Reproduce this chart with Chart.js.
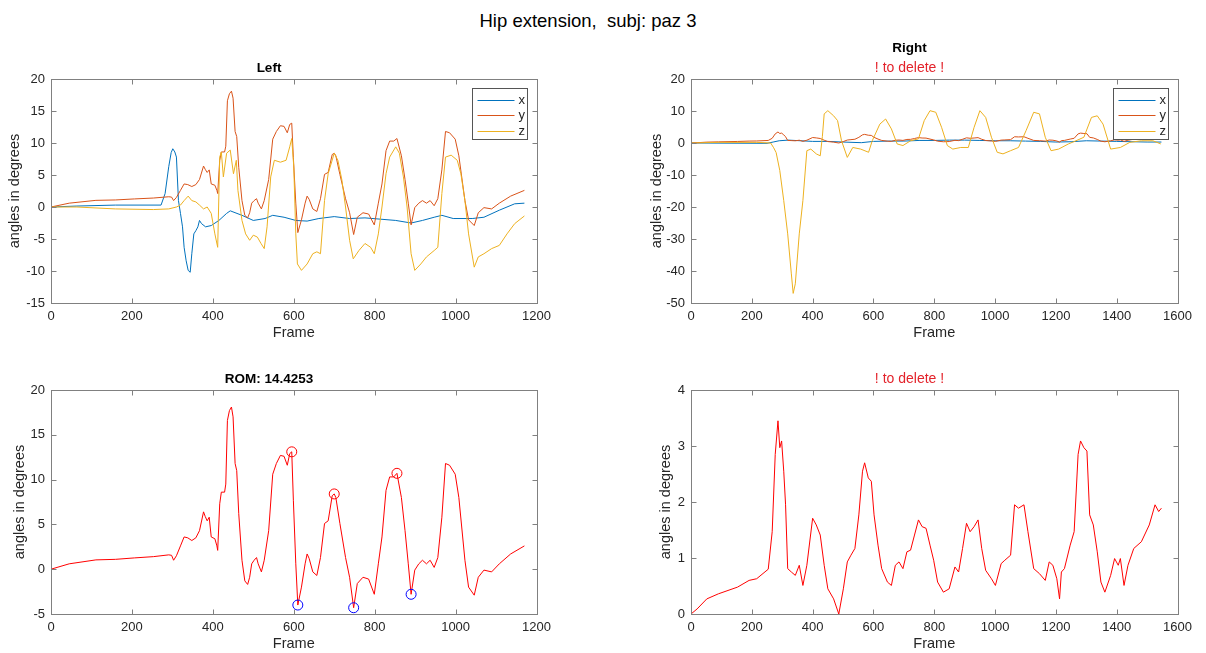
<!DOCTYPE html>
<html><head><meta charset="utf-8">
<script src="https://cdn.jsdelivr.net/npm/chart.js@4/dist/chart.umd.min.js"></script>
<style>
body{margin:0;background:#fff;width:1206px;height:653px;overflow:hidden;position:relative;font-family:"Liberation Sans",Arial,sans-serif;}
.box{position:absolute;}
#main{position:absolute;left:0;width:1176px;top:10px;line-height:22px;text-align:center;font-size:18.5px;color:#000;white-space:pre;}
</style></head><body>
<div id="main">Hip extension,  subj: paz 3</div>
<div class="box" id="b1"></div>
<div class="box" id="b2"></div>
<div class="box" id="b3"></div>
<div class="box" id="b4"></div>
<script>
// ---------------- DATA ----------------
const mainTitle = "Hip extension,  subj: paz 3";
const seriesLabels = ["x", "y", "z"];

// Left side
const leftXFrames = [0,64,159,272,282,291,297,301,306,310,315,320,325,329,334,339,344,348,353,358,363,367,372,382,396,415,434,443,472,500,529,548,576,605,633,662,700,738,776,814,852,890,918,947,966,994,1041,1070,1108,1146,1170];
const leftXValues = [0,0.15,0.3,0.3,2.1,6.3,8.5,9.1,8.6,7.8,1.0,-1.0,-3.1,-6.3,-8.4,-9.9,-10.2,-7.3,-4.2,-3.7,-3.1,-2.1,-2.6,-3.1,-2.9,-2.1,-1.0,-0.6,-1.3,-2.1,-1.8,-1.3,-1.6,-2.1,-2.2,-1.8,-1.5,-1.8,-1.7,-1.9,-2.1,-2.5,-2.1,-1.6,-1.3,-1.8,-1.8,-1.6,-0.5,0.5,0.6];

const leftYFrames = [0,45,111,159,206,253,291,298,303,310,320,329,338,348,358,367,377,381,386,391,396,405,410,412,417,421,429,432,436,441,446,450,455,459,464,472,479,486,491,496,502,508,512,520,527,538,548,557,567,576,584,590,595,599,605,610,619,628,633,638,647,657,666,676,685,695,700,704,714,728,738,748,757,771,785,799,809,818,828,837,847,855,866,875,883,890,899,909,918,928,937,947,956,966,975,985,999,1008,1023,1032,1046,1056,1070,1089,1108,1136,1170];
const leftYValues = [0,0.6,1.04,1.1,1.26,1.4,1.6,1.55,1.0,1.5,2.6,3.6,3.5,3.2,3.5,4.3,6.4,5.9,5.4,5.8,3.6,3.4,2.6,2.1,7.3,8.6,8.6,9.5,16.6,17.7,18.1,17,11.8,11,6.2,1,-1.3,-1.7,-0.9,0.6,1.0,1.3,0.6,-0.3,1.0,4.3,10.6,11.8,12.7,12.6,11.6,12.9,13.1,7.7,0.6,-4.0,-2.0,0.6,1.7,1.2,-0.3,-0.7,1.3,5.1,5.4,8.2,8.4,8.0,5.1,1.3,-0.9,-4.3,-1.6,-0.9,-1.1,-2.8,0.6,3.6,8.8,10.3,10.3,10.7,8.0,4.3,0.6,-2.8,-0.1,0.6,1.0,0.6,1.0,0.2,1.3,5.8,11.8,11.6,10.6,8.0,1.0,-2.0,-2.9,-0.9,-0.1,-0.3,0.6,1.7,2.6];

const leftZFrames = [0,64,159,253,291,310,320,329,339,348,358,367,377,386,396,405,412,417,421,426,434,443,451,458,462,472,481,491,500,510,519,527,534,543,552,567,581,590,595,600,605,609,619,633,647,657,666,676,685,700,709,719,728,738,747,761,776,790,799,809,818,828,837,852,861,871,880,890,899,914,928,947,956,966,975,989,1004,1013,1023,1032,1046,1056,1070,1089,1108,1127,1146,1170];
const leftZValues = [0,0,-0.3,-0.4,-0.3,0,0.3,1.0,1.7,1.0,0.8,0.3,-0.3,0,-1.0,-4.2,-6.3,7.8,8.6,4.7,8.4,8.9,5.2,7.3,2.6,-2.1,-4.2,-5.2,-4.4,-4.7,-5.7,-6.5,-3.1,4.7,7.3,7.0,7.3,9.4,10.7,6.3,-4.2,-8.9,-9.9,-8.9,-7.3,-7.0,-7.3,1.0,5.2,8.4,7.3,4.2,0,-5.2,-8.1,-6.8,-5.7,-6.3,-7.3,-4.2,0,5.2,7.8,9.4,8.4,4.7,0,-7.3,-9.9,-8.9,-7.8,-6.8,-6.3,2.1,7.8,8.1,7.3,5.2,1.0,-4.2,-9.4,-7.8,-7.3,-6.5,-6.0,-4.2,-2.6,-1.4];

// ROM markers (left)
const romPeakFrames = [595, 700, 855];
const romPeakValues = [13.1, 8.4, 10.7];
const romMinFrames = [610, 748, 890];
const romMinValues = [-4.0, -4.3, -2.8];

// Right side
const rightXFrames = [0,250,270,290,320,360,400,450,500,560,600,650,700,750,800,850,900,950,1000,1050,1100,1150,1200,1250,1300,1350,1400,1450,1500,1547];
const rightXValues = [0,-0.1,0.3,0.7,0.9,0.7,0.5,0.5,0.3,0.1,0.5,0.6,0.6,0.8,0.8,0.9,0.9,0.8,0.7,0.7,0.6,0.5,0.3,0.4,0.7,0.6,0.5,0.4,0.3,0.3];

const rightYFrames = [0,20,52,90,153,191,216,254,267,277,286,292,298,305,311,318,330,343,356,368,381,400,412,425,438,450,469,486,501,514,526,539,552,564,571,583,593,602,615,627,646,659,672,684,697,710,722,735,748,760,773,786,798,811,830,849,868,880,893,906,918,931,944,956,969,988,1001,1020,1032,1051,1064,1077,1095,1108,1127,1146,1165,1178,1190,1203,1212,1218,1228,1247,1260,1273,1281,1292,1302,1311,1323,1336,1348,1361,1380,1393,1405,1412,1424,1437,1456,1481,1507,1526,1538,1547];
const rightYValues = [0,0.09,0.27,0.36,0.48,0.6,0.63,0.8,1.47,2.85,3.45,2.97,3.09,2.55,1.95,0.81,0.75,0.69,0.87,0.51,0.87,1.71,1.59,1.41,0.87,0.45,0.27,0.0,0.45,0.93,1.05,1.17,1.77,2.55,2.7,2.43,2.37,1.77,1.23,0.81,0.57,0.51,0.87,0.93,0.81,1.11,1.14,1.41,1.68,1.56,1.53,1.23,0.96,0.57,0.39,0.45,0.84,0.75,1.17,1.62,1.47,1.56,1.68,1.17,0.78,0.63,0.51,0.9,0.96,1.05,1.95,1.89,1.95,1.47,0.81,0.72,0.6,0.93,0.87,0.63,0.27,0.75,0.81,1.23,1.47,2.85,3.09,2.97,2.91,1.77,1.59,1.11,0.57,0.39,0.69,0.99,0.87,0.99,0.51,0.87,1.17,1.29,1.59,1.95,1.83,1.89];

const rightZFrames = [0,90,216,262,272,280,292,305,318,330,336,343,356,368,381,394,412,425,432,438,450,469,482,495,514,532,558,584,596,621,640,659,678,697,722,748,767,786,805,824,843,861,887,912,931,950,969,988,1007,1026,1051,1077,1102,1127,1146,1165,1184,1209,1241,1266,1292,1317,1336,1355,1380,1412,1443,1481,1519,1545];
const rightZValues = [0,0.2,0.2,0,-1.5,-3,-8.6,-18,-28.4,-40.9,-47,-44,-28.4,-18,-2.4,-1.9,-3.4,-4.0,2,9.1,10.1,8.5,7.0,0.7,-4.5,-1.4,-1.9,-2.9,0.7,5.9,7.5,4.4,-0.3,-0.8,0.7,1.3,7.0,10.1,9.6,4.9,-0.8,-1.9,-1.4,-1.4,4.9,10.1,8.0,1.8,-2.9,-3.4,-2.4,-1.4,3.9,9.6,9.1,1.8,-2.4,-1.9,-0.3,0.7,1.8,8.0,8.5,5.9,-1.9,-1.4,0.2,0.7,0.7,-0.3];

// Axis tick settings
const leftXTicks = {min: 0, max: 1200, step: 200};
const rightXTicks = {min: 0, max: 1600, step: 200};
const topLeftYTicks = {min: -15, max: 20, step: 5};
const topRightYTicks = {min: -50, max: 20, step: 10};
const botLeftYTicks = {min: -5, max: 20, step: 5};
const botRightYTicks = {min: 0, max: 4, step: 1};

// ---------------- STYLE / HELPERS ----------------
const FONT = '"Liberation Sans", Arial, Helvetica, sans-serif';
const C_X = '#0072BD', C_Y = '#D95319', C_Z = '#EDB120', C_RED = '#ff0000', C_BLUE = '#0000ff';
const TXT = '#262626';
const RED_T = '#e3232b';

function pts(f, v) { return f.map((x, i) => ({x: x, y: v[i]})); }

const boxPlugin = {
  id: 'mbox',
  afterDraw(chart) {
    const {ctx, chartArea: a, scales} = chart;
    ctx.save();
    ctx.strokeStyle = '#808080'; ctx.lineWidth = 1;
    const L = Math.round(a.left) + 0.5, T = Math.round(a.top) + 0.5, R = Math.round(a.right) + 0.5, B = Math.round(a.bottom) + 0.5;
    ctx.strokeRect(L, T, R - L, B - T);
    const tl = 5;
    ctx.beginPath();
    scales.x.ticks.forEach(t => {
      const p = Math.round(scales.x.getPixelForValue(t.value)) + 0.5;
      ctx.moveTo(p, B); ctx.lineTo(p, B - tl);
      ctx.moveTo(p, T); ctx.lineTo(p, T + tl);
    });
    scales.y.ticks.forEach(t => {
      const p = Math.round(scales.y.getPixelForValue(t.value)) + 0.5;
      ctx.moveTo(L, p); ctx.lineTo(L + tl, p);
      ctx.moveTo(R, p); ctx.lineTo(R - tl, p);
    });
    ctx.stroke();
    ctx.restore();
  }
};

const legendPlugin = {
  id: 'mlegend',
  afterDraw(chart, args, opts) {
    if (!opts || !opts.show) return;
    const {ctx, chartArea: a} = chart;
    const w = 55, h = 51;
    const x0 = Math.round(a.right - 10 - w) + 0.5, y0 = Math.round(a.top + 9) + 0.5;
    ctx.save();
    ctx.fillStyle = '#fff'; ctx.fillRect(x0, y0, w, h);
    ctx.strokeStyle = '#555'; ctx.lineWidth = 1; ctx.strokeRect(x0, y0, w, h);
    ctx.font = '13px ' + FONT; ctx.textBaseline = 'middle'; ctx.textAlign = 'left';
    chart.data.datasets.forEach((ds, i) => {
      const y = Math.round(y0 + 11 + i * 15.5) + 0.5;
      ctx.strokeStyle = ds.borderColor; ctx.beginPath(); ctx.moveTo(x0 + 5, y); ctx.lineTo(x0 + 42, y); ctx.stroke();
      ctx.fillStyle = TXT; ctx.fillText(ds.label, x0 + 46, y);
    });
    ctx.restore();
  }
};
Chart.register(boxPlugin, legendPlugin);

function lineDs(label, f, v, color, order) {
  return {label: label, data: pts(f, v), borderColor: color, backgroundColor: color, borderWidth: 1, pointRadius: 0, tension: 0, order: order, fill: false};
}

function titleOpts(text, center, size, bold, color, blockStart, blockEnd) {
  const lh = 1.2 * size;
  const p1 = center - blockStart - lh / 2;
  const p2 = blockEnd - blockStart - p1 - lh;
  return {display: true, text: text, color: color, font: {family: FONT, size: size, weight: bold ? 'bold' : 'normal', lineHeight: 1.2}, padding: {top: p1, bottom: p2}};
}

function makeChart(id, pos, datasets, xt, yt, titles, ylabOff, legend) {
  const div = document.getElementById(id);
  const W = pos.W + 50 + 20, H = pos.H + 50 + 45;
  div.style.left = (pos.L - 50) + 'px';
  div.style.top = (pos.T - 50) + 'px';
  const canvas = document.createElement('canvas');
  canvas.width = W; canvas.height = H;
  canvas.style.width = W + 'px'; canvas.style.height = H + 'px';
  div.appendChild(canvas);
  const plugins = {legend: {display: false}, tooltip: {enabled: false}, mlegend: {show: legend}};
  plugins.title = titles.title;
  plugins.subtitle = titles.subtitle || {display: false};
  new Chart(canvas, {
    type: 'line',
    data: {datasets: datasets},
    options: {
      responsive: false, animation: false, devicePixelRatio: 1,
      layout: {padding: {left: 0, top: 0, right: 20, bottom: 0}},
      plugins: plugins,
      scales: {
        x: {
          type: 'linear', min: xt.min, max: xt.max,
          grid: {display: false, drawTicks: false}, border: {display: false},
          ticks: {stepSize: xt.step, color: TXT, font: {family: FONT, size: 13}, padding: 6, maxRotation: 0, autoSkip: false, callback: v => String(v)},
          title: {display: true, text: 'Frame', color: TXT, font: {family: FONT, size: 14.5, lineHeight: 1.2}, padding: {top: 0, bottom: 45 - 30 - 8.7}},
          afterFit: s => { s.height = 45; }
        },
        y: {
          type: 'linear', min: yt.min, max: yt.max,
          grid: {display: false, drawTicks: false}, border: {display: false},
          ticks: {stepSize: yt.step, color: TXT, font: {family: FONT, size: 13}, padding: 6, autoSkip: false, callback: v => String(v)},
          title: {display: true, text: 'angles in degrees', color: TXT, font: {family: FONT, size: 14.5, lineHeight: 1.2}, padding: {top: 50 - ylabOff - 8.7, bottom: 0}},
          afterFit: s => { s.width = 50; }
        }
      }
    }
  });
}

// ---------------- CHARTS ----------------
// Top-left: Left
makeChart('b1', {L: 51, T: 79, W: 486, H: 224},
  [lineDs(seriesLabels[0], leftXFrames, leftXValues, C_X, 2),
   lineDs(seriesLabels[1], leftYFrames, leftYValues, C_Y, 1),
   lineDs(seriesLabels[2], leftZFrames, leftZValues, C_Z, 0)],
  leftXTicks, topLeftYTicks,
  {title: titleOpts('Left', 68 - 29, 13.5, true, '#000', 0, 50)},
  36, true);

// Top-right: Right
makeChart('b2', {L: 691, T: 79, W: 487, H: 224},
  [lineDs(seriesLabels[0], rightXFrames, rightXValues, C_X, 2),
   lineDs(seriesLabels[1], rightYFrames, rightYValues, C_Y, 1),
   lineDs(seriesLabels[2], rightZFrames, rightZValues, C_Z, 0)],
  rightXTicks, topRightYTicks,
  {title: titleOpts('Right', 48 - 29, 13.5, true, '#000', 0, 27.5),
   subtitle: titleOpts('! to delete !', 68 - 29, 14, false, RED_T, 27.5, 50)},
  34, true);

// Bottom-left: ROM
const romDs = [
  lineDs('y', leftYFrames, leftYValues, C_RED, 1),
  {type: 'scatter', label: 'max', data: pts(romPeakFrames, romPeakValues), borderColor: C_RED, backgroundColor: 'rgba(0,0,0,0)', borderWidth: 1, pointRadius: 5, pointStyle: 'circle', showLine: false, order: -1, clip: false},
  {type: 'scatter', label: 'min', data: pts(romMinFrames, romMinValues), borderColor: C_BLUE, backgroundColor: 'rgba(0,0,0,0)', borderWidth: 1, pointRadius: 5, pointStyle: 'circle', showLine: false, order: -1, clip: false}
];
makeChart('b3', {L: 51, T: 390, W: 486, H: 224},
  romDs, leftXTicks, botLeftYTicks,
  {title: titleOpts('ROM: 14.4253', 379 - 340, 13.5, true, '#000', 0, 50)},
  31, false);

// Bottom-right
makeChart('b4', {L: 691, T: 390, W: 487, H: 224},
  [lineDs('y', rightYFrames, rightYValues, C_RED, 1)],
  rightXTicks, botRightYTicks,
  {title: titleOpts('! to delete !', 379 - 340, 14, false, RED_T, 0, 50)},
  25, false);
</script>
</body></html>
